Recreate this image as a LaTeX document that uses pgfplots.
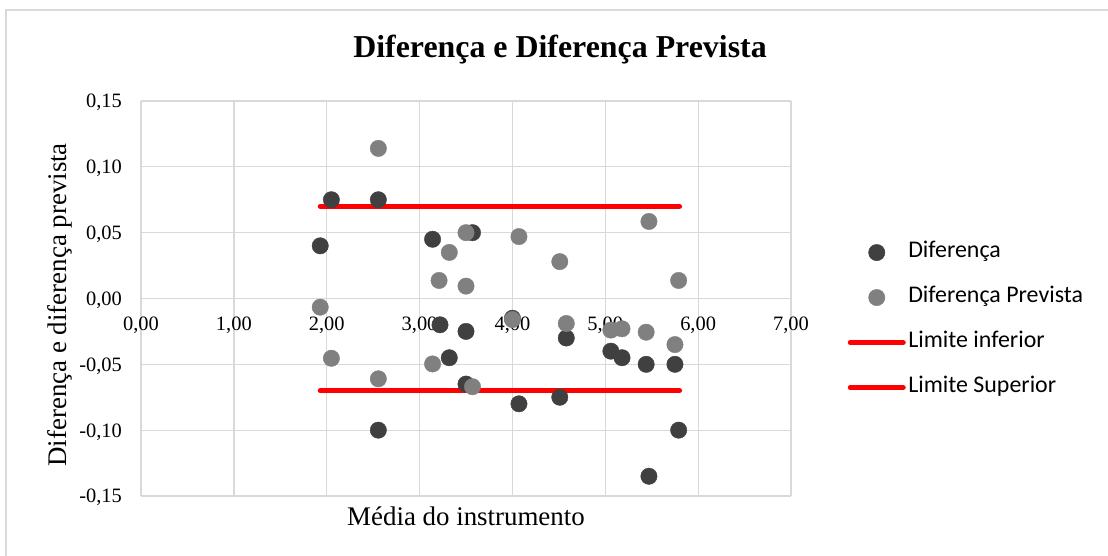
\documentclass[border=0pt]{standalone}
\usepackage{fontspec}
\setmainfont{Liberation Serif}
\newfontfamily\legfont{Carlito}
\usepackage{pgfplots}
\pgfplotsset{compat=1.18}
\definecolor{darkpt}{HTML}{404040}
\definecolor{graypt}{HTML}{808080}
\definecolor{gridc}{HTML}{D9D9D9}
\definecolor{redl}{HTML}{FF0000}
\begin{document}
\begin{tikzpicture}[x=1bp,y=1bp]
\useasboundingbox (0,0) rectangle (1108,556);
\fill[white] (0,0) rectangle (1108,556);
\draw[gridc, line width=1.5bp] (6,-10) -- (6,546) -- (1120,546);
\node[font=\bfseries\fontsize{32}{37}\selectfont, anchor=base] at (560,498) {Diferença e Diferença Prevista};
\begin{axis}[
  at={(141bp,60bp)}, anchor=south west,
  scale only axis, width=650bp, height=395bp,
  xmin=0, xmax=7, ymin=-0.15, ymax=0.15,
  axis x line=middle, axis y line=left,
  axis line style={-, gridc, line width=1.3bp},
  hide obscured x ticks=false, hide obscured y ticks=false,
  major tick length=0pt,
  grid=major, major grid style={gridc, line width=1.3bp},
  xtick={0,1,2,3,4,5,6,7},
  ytick={-0.15,-0.10,-0.05,0,0.05,0.10,0.15},
  /pgf/number format/assume math mode=true,
  xticklabel={\pgfmathprintnumber[fixed,fixed zerofill,precision=2,use comma]{\tick}},
  yticklabel={\pgfmathprintnumber[fixed,fixed zerofill,precision=2,use comma]{\tick}},
  ticklabel style={font=\fontsize{20.5}{24}\selectfont},
  xticklabel style={anchor=base, yshift=-32bp},
  yticklabel style={anchor=base east, inner xsep=0pt, xshift=-19bp, yshift=-7bp},
  xlabel={Média do instrumento},
  ylabel={Diferença e diferença prevista},
  label style={font=\fontsize{27}{31}\selectfont},
  xlabel style={at={(axis description cs:0.5,0)}, anchor=base, yshift=-30bp},
  ylabel style={at={([xshift=-74bp]axis description cs:0,0.484)}, anchor=base, rotate=0},
  legend style={at={(axis description cs:1.087,0.4454)}, anchor=west, draw=none, fill=none,
    font=\legfont\fontsize{24}{28}\selectfont, row sep=26bp, inner sep=0pt,
    nodes={inner xsep=2.5bp, inner ysep=0pt, text height=14bp, text depth=5bp}},
  legend cell align=left,
  legend image code/.code={\draw[mark repeat=2,mark phase=2,#1] plot coordinates {(0bp,0bp)(26.5bp,0bp)(53bp,0bp)};},
]
\addplot[only marks, mark=*, mark size=8.2bp, mark options={draw=darkpt, fill=darkpt}] coordinates {
(1.93,0.040) (2.05,0.075) (2.556,0.075) (2.556,-0.100) (3.14,0.045)
(3.22,-0.020) (3.32,-0.045) (3.50,-0.025) (3.50,-0.065) (3.57,0.050)
(4.00,-0.015) (4.07,-0.080) (4.51,-0.075) (4.58,-0.030) (5.06,-0.040)
(5.18,-0.045) (5.44,-0.050) (5.47,-0.135) (5.75,-0.050) (5.79,-0.100)
};
\addlegendentry{Diferença}
\addplot[only marks, mark=*, mark size=8.2bp, mark options={draw=graypt, fill=graypt}] coordinates {
(1.93,-0.0066) (2.05,-0.0454) (2.556,0.114) (2.556,-0.061) (3.14,-0.0497)
(3.21,0.0137) (3.32,0.035) (3.50,0.050) (3.50,0.0094) (3.57,-0.067)
(4.00,-0.016) (4.07,0.047) (4.51,0.028) (4.58,-0.019) (5.06,-0.024)
(5.18,-0.023) (5.44,-0.0256) (5.47,0.0585) (5.75,-0.035) (5.79,0.0137)
};
\addlegendentry{Diferença Prevista}
\addplot[redl, line width=5bp, line cap=round, mark=none] coordinates {(1.93,-0.07) (5.80,-0.07)};
\addlegendentry{Limite inferior}
\addplot[redl, line width=5bp, line cap=round, mark=none] coordinates {(1.93,0.07) (5.80,0.07)};
\addlegendentry{Limite Superior}
\end{axis}
\end{tikzpicture}
\end{document}
